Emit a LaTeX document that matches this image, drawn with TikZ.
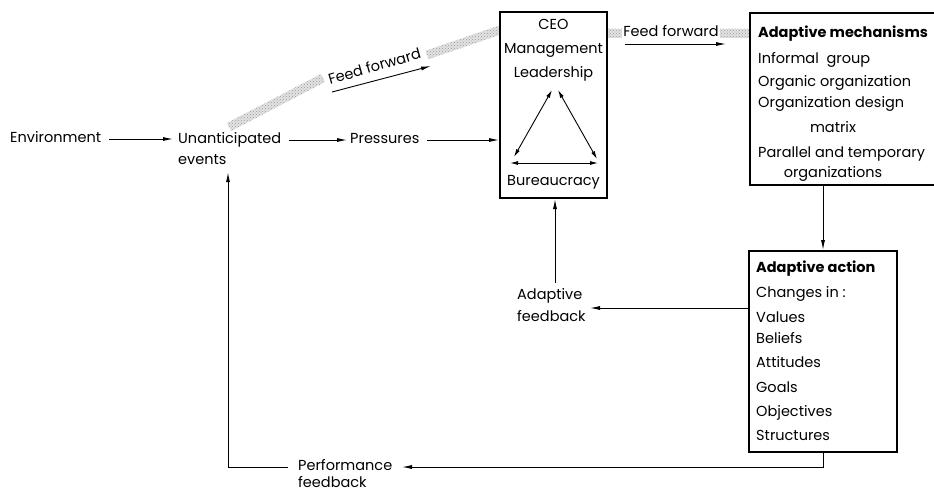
\documentclass[tikz,border=0pt]{standalone}
\usepackage{fontspec}
\setmainfont{Poppins}
\usetikzlibrary{arrows.meta,calc,patterns}
\newcommand\stippleband[2]{%
  \fill[bandfill] ($(#1)!4.5pt!90:(#2)$) -- ($(#2)!4.5pt!-90:(#1)$) -- ($(#2)!4.5pt!90:(#1)$) -- ($(#1)!4.5pt!-90:(#2)$) -- cycle;}
\begin{document}
\begin{tikzpicture}[x=1pt,y=-1pt,
  txt/.style={inner sep=0pt, font=\fontsize{14.5}{17}\selectfont, text height=10.5pt, text depth=3.5pt, anchor=west},
  ctxt/.style={txt, anchor=center},
  btxt/.style={txt, font=\fontsize{14.5}{17}\selectfont\bfseries},
  box/.style={draw, line width=2pt, inner sep=0pt},
  arr/.style={line width=0.9pt, -{Latex[length=10pt,width=4pt]}},
  darr/.style={line width=0.9pt, {Latex[length=8pt,width=4pt]}-{Latex[length=8pt,width=4pt]}},
  bandfill/.style={fill=gray!22, postaction={pattern=crosshatch dots, pattern color=gray!80}},
  plain/.style={line width=0.9pt}]
\useasboundingbox (0,0) rectangle (934,491);

% text nodes
\node[txt] (env) at (10,139) {Environment};
\node[txt] (unant) at (178,140) {Unanticipated};
\node[txt] (unant2) at (178,161) {events};
\node[txt] (press) at (350,140) {Pressures};

% bands (drawn first, under boxes)
\node[txt, anchor=center, rotate=16] (ff1) at (375,68) {Feed forward};
\coordinate (b1s) at (229,127);
\coordinate (b1e) at (323,78);
\coordinate (b2s) at (427,55);
\coordinate (b2e) at (500,30);
\stippleband{b1s}{b1e}
\stippleband{b2s}{b2e}
\node[ctxt] (ff2) at (671,33) {Feed forward};
\coordinate (c1s) at (607,33);
\coordinate (c1e) at ([xshift=-1pt]ff2.west);
\coordinate (c2s) at ([xshift=1pt]ff2.east);
\coordinate (c2e) at (750,33);
\stippleband{c1s}{c1e}
\stippleband{c2s}{c2e}

% CEO box
\node[box, fill=white, minimum width=107pt, minimum height=186pt] (ceo) at (553.5,105) {};
\node[ctxt] (ceot) at (553.5,26) {CEO};
\node[ctxt] (mgmt) at (553.5,50) {Management};
\node[ctxt] (lead) at (553.5,74) {Leadership};
\node[ctxt] (bur) at (553.5,182) {Bureaucracy};
\coordinate (apexL) at (552,90);
\coordinate (apexR) at (558,90);
\coordinate (botL) at (514,157);
\coordinate (botR) at (597,159);
\coordinate (baseL) at (510,163);
\coordinate (baseR) at (598,163);
\draw[darr] (apexL) -- (botL);
\draw[darr] (apexR) -- (botR);
\draw[darr] (baseL) -- (baseR);

% feed forward arrows
\coordinate (f1a) at (332,92);
\coordinate (f1b) at (431,66);
\draw[arr] (f1a) -- (f1b);
\coordinate (f2a) at (625,44);
\coordinate (f2b) at (726,44);
\draw[arr] (f2a) -- (f2b);

% Adaptive mechanisms box
\node[box, fill=white, minimum width=185pt, minimum height=172pt] (mech) at (842.5,99) {};
\node[btxt] (m0) at (758,34) {Adaptive mechanisms};
\node[txt] (m1) at (758,60) {Informal\ \ group};
\node[txt] (m2) at (758,83) {Organic organization};
\node[txt] (m3) at (758,104) {Organization design};
\node[ctxt] (m4) at (833,129) {matrix};
\node[txt] (m5) at (758,154) {Parallel and temporary};
\node[ctxt] (m6) at (833,174) {organizations};

% Adaptive action box
\node[box, minimum width=148pt, minimum height=201pt] (act) at (823,351.5) {};
\node[btxt] (a0) at (756,269) {Adaptive action};
\node[txt] (a1) at (756,294) {Changes in :};
\node[txt] (a2) at (756,319) {Values};
\node[txt] (a3) at (756,340) {Beliefs};
\node[txt] (a4) at (756,364) {Attitudes};
\node[txt] (a5) at (756,389) {Goals};
\node[txt] (a6) at (756,413) {Objectives};
\node[txt] (a7) at (756,437) {Structures};

% Adaptive feedback
\node[txt] (adf1) at (517,296) {Adaptive};
\node[txt] (adf2) at (517,318) {feedback};

% Performance feedback
\node[txt] (pf1) at (298,467) {Performance};
\node[txt] (pf2) at (298,484) {feedback};

% connectors
\draw[arr, shorten <=8pt, shorten >=5pt] (env.east) -- (env.east -| unant.west);
\draw[arr, shorten <=8pt, shorten >=3pt] (unant.east) -- (unant.east -| press.west);
\draw[arr, shorten <=7pt] (press.east) -- (press.east -| ceo.west);
\draw[arr] (act.north |- mech.south) -- (act.north);
\draw[arr] (act.west |- 0,308) -- (590,308);
\coordinate (adfup) at (555,283);
\draw[arr] (adfup) -- (adfup |- ceo.south);
\coordinate (pfin) at (402,467);
\draw[arr] (act.south) |- (pfin);
\coordinate (ucol) at (228,0);
\draw[arr, shorten <=10pt] (pf1.west) -| ([yshift=-4pt]unant2.south -| ucol);
\end{tikzpicture}
\end{document}
